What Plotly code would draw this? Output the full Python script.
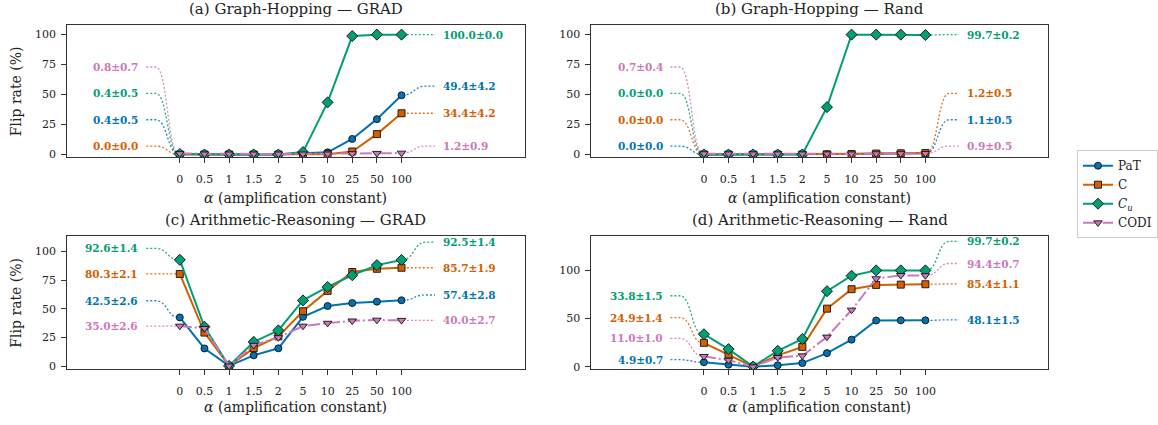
import plotly.graph_objects as go

# ---------------- data ----------------
alpha_labels = ["0", "0.5", "1", "1.5", "2", "5", "10", "25", "50", "100"]
series_names = ["PaT", "C", "<i>C<sub>u</sub></i>", "CODI"]

# (a) Graph-Hopping — GRAD
a_pat = [0.4, 0.0, 0.0, 0.0, 0.0, 1.0, 1.8, 13.0, 29.5, 49.4]
a_c = [0.0, 0.0, 0.0, 0.0, 0.0, 0.0, 0.3, 2.5, 17.0, 34.4]
a_cu = [0.4, 0.0, 0.0, 0.0, 0.0, 2.0, 43.5, 98.8, 100.0, 100.0]
a_codi = [0.8, 0.5, 0.5, 0.5, 0.5, 0.5, 0.5, 0.8, 1.0, 1.2]
a_std_first = [0.5, 0.0, 0.5, 0.7]
a_std_last = [4.2, 4.2, 0.0, 0.9]

# (b) Graph-Hopping — Rand
b_pat = [0.0, 0.0, 0.0, 0.0, 0.0, 0.2, 0.3, 0.6, 0.9, 1.1]
b_c = [0.0, 0.0, 0.0, 0.0, 0.0, 0.2, 0.4, 0.8, 1.0, 1.2]
b_cu = [0.0, 0.0, 0.0, 0.0, 0.0, 39.5, 100.0, 100.0, 100.0, 99.7]
b_codi = [0.7, 0.6, 0.6, 0.6, 0.6, 0.6, 0.6, 0.7, 0.8, 0.9]
b_std_first = [0.0, 0.0, 0.0, 0.4]
b_std_last = [0.5, 0.5, 0.2, 0.5]

# (c) Arithmetic-Reasoning — GRAD
c_pat = [42.5, 15.5, 0.3, 9.5, 15.6, 43.0, 52.4, 55.0, 56.2, 57.4]
c_c = [80.3, 29.3, 0.3, 15.8, 26.0, 47.9, 65.6, 82.0, 84.8, 85.7]
c_cu = [92.6, 34.4, 0.3, 21.2, 31.2, 57.3, 69.0, 79.2, 88.0, 92.5]
c_codi = [35.0, 33.0, 0.3, 18.3, 25.0, 35.0, 37.5, 39.5, 40.2, 40.0]
c_std_first = [2.6, 2.1, 1.4, 2.6]
c_std_last = [2.8, 1.9, 1.4, 2.7]

# (d) Arithmetic-Reasoning — Rand
d_pat = [4.9, 2.4, 0.3, 1.7, 4.0, 14.3, 28.2, 48.0, 48.1, 48.1]
d_c = [24.9, 13.0, 0.3, 12.0, 20.7, 60.2, 80.3, 84.7, 85.0, 85.4]
d_cu = [33.8, 18.4, 0.5, 16.7, 28.9, 78.2, 94.2, 99.7, 99.7, 99.7]
d_codi = [11.0, 7.0, 0.3, 9.9, 11.6, 31.0, 58.8, 91.2, 94.6, 94.4]
d_std_first = [0.7, 1.4, 1.5, 1.0]
d_std_last = [1.5, 1.1, 0.2, 0.7]

panel_titles = [
    "(a) Graph-Hopping — GRAD",
    "(b) Graph-Hopping — Rand",
    "(c) Arithmetic-Reasoning — GRAD",
    "(d) Arithmetic-Reasoning — Rand",
]

# ---------------- layout / style ----------------
FONT = "DejaVu Serif"
colors = ["#0173b2", "#d55e00", "#029e73", "#cc78bc"]
symbols = ["circle", "square", "diamond", "triangle-down"]
msizes = [7, 7, 8.5, 7.5]
dashes = ["solid", "solid", "solid", "12px,3px,2px,3px"]

# label y positions (placement of the side annotations)
label_left_y = [[29, 7, 51, 73], [7, 29, 51, 73], [57, 80.3, 102.6, 35], [7.5, 51, 73.5, 29.5]]
label_right_y = [[57, 34.4, 100, 7], [29, 51, 100, 7], [62, 85.7, 108, 40], [48.6, 85.7, 129.6, 106.8]]

W, H = 1158, 425
xdom = [[67.5 / W, 527 / W], [594 / W, 1053 / W]]
ydom_top = [1 - 159 / H, 1 - 25.7 / H]
ydom_bot = [1 - 373.3 / H, 1 - 239.3 / H]
yranges = [[-2.2, 107.7], [-2.2, 107.7], [-2.3, 112.9], [-2.0, 134.7]]
yticks = [[0, 25, 50, 75, 100], [0, 25, 50, 75, 100], [0, 25, 50, 75, 100], [0, 50, 100]]
XR = [-4.57, 14.0]

panels = [
    ([a_pat, a_c, a_cu, a_codi], a_std_first, a_std_last),
    ([b_pat, b_c, b_cu, b_codi], b_std_first, b_std_last),
    ([c_pat, c_c, c_cu, c_codi], c_std_first, c_std_last),
    ([d_pat, d_c, d_cu, d_codi], d_std_first, d_std_last),
]

xpos = list(range(len(alpha_labels)))
fig = go.Figure()
shapes = []
annotations = []

for p, (series, sfirst, slast) in enumerate(panels):
    ax = "" if p == 0 else str(p + 1)
    xref, yref = "x" + ax, "y" + ax
    for i, vals in enumerate(series):
        fig.add_trace(go.Scatter(
            x=xpos, y=vals, mode="lines+markers", name=series_names[i],
            legendgroup=series_names[i], showlegend=(p == 0),
            xaxis=xref, yaxis=yref,
            line=dict(color=colors[i], width=2, dash=dashes[i]),
            marker=dict(symbol=symbols[i], size=msizes[i], color=colors[i],
                        line=dict(color="#111111", width=0.9)),
        ))
        # left connector + label
        v0, ly = vals[0], label_left_y[p][i]
        shapes.append(dict(
            type="path", xref=xref, yref=yref, layer="below",
            path=f"M -1.36,{ly} L -0.97,{ly} C -0.5,{ly} -0.5,{v0} -0.05,{v0}",
            line=dict(color=colors[i], width=1.3, dash="2px,2px"), opacity=0.85,
        ))
        annotations.append(dict(
            x=-1.6, y=ly, xref=xref, yref=yref, xanchor="right", yanchor="middle",
            text=f"<b>{v0:.1f}±{sfirst[i]:.1f}</b>", showarrow=False,
            font=dict(family=FONT, size=10.5, color=colors[i]),
        ))
        # right connector + label
        v9, ry = vals[-1], label_right_y[p][i]
        shapes.append(dict(
            type="path", xref=xref, yref=yref, layer="below",
            path=f"M 9.05,{v9} C 9.5,{v9} 9.5,{ry} 9.97,{ry} L 10.36,{ry}",
            line=dict(color=colors[i], width=1.3, dash="2px,2px"), opacity=0.85,
        ))
        annotations.append(dict(
            x=10.62, y=ry, xref=xref, yref=yref, xanchor="left", yanchor="middle",
            text=f"<b>{v9:.1f}±{slast[i]:.1f}</b>", showarrow=False,
            font=dict(family=FONT, size=10.5, color=colors[i]),
        ))

axis_common = dict(
    showline=True, mirror=True, linecolor="#333333", linewidth=1,
    ticks="outside", ticklen=5, tickwidth=1, tickcolor="#333333",
    showgrid=False, zeroline=False,
    tickfont=dict(family=FONT, size=11, color="#222222"),
)

layout_axes = {}
for p in range(4):
    ax = "" if p == 0 else str(p + 1)
    col, row = p % 2, p // 2
    layout_axes["xaxis" + ax] = dict(
        axis_common, domain=xdom[col], range=XR, anchor="y" + ax,
        tickvals=xpos, ticktext=alpha_labels, ticklabelstandoff=7,
    )
    layout_axes["yaxis" + ax] = dict(
        axis_common, domain=ydom_top if row == 0 else ydom_bot,
        range=yranges[p], anchor="x" + ax, tickvals=yticks[p],
        ticklabelstandoff=3,
    )
    # titles
    xc = (xdom[col][0] + xdom[col][1]) / 2
    annotations.append(dict(
        x=xc, y=1 - (9.5 if row == 0 else 222.7) / H, xref="paper", yref="paper",
        text=panel_titles[p], showarrow=False, xanchor="center", yanchor="middle",
        font=dict(family=FONT, size=15, color="#222222"),
    ))
    annotations.append(dict(
        x=xc, y=1 - (200 if row == 0 else 412) / H, xref="paper", yref="paper",
        text="<i>α</i> (amplification constant)", showarrow=False,
        xanchor="center", yanchor="middle",
        font=dict(family=FONT, size=14, color="#222222"),
    ))
    if col == 0:
        yd = ydom_top if row == 0 else ydom_bot
        annotations.append(dict(
            x=16 / W, y=(yd[0] + yd[1]) / 2, xref="paper", yref="paper",
            text="Flip rate (%)", showarrow=False, textangle=-90,
            xanchor="center", yanchor="middle",
            font=dict(family=FONT, size=14, color="#222222"),
        ))

fig.update_layout(
    width=W, height=H, margin=dict(l=0, r=0, t=0, b=0),
    paper_bgcolor="white", plot_bgcolor="white",
    shapes=shapes, annotations=annotations,
    legend=dict(
        x=1082 / W, y=1 - 152 / H, xanchor="left", yanchor="top",
        bordercolor="#cccccc", borderwidth=1, bgcolor="white",
        font=dict(family=FONT, size=12, color="#222222"),
        itemwidth=30, tracegroupgap=0,
    ),
    **layout_axes,
)

fig.write_html("out.html")
